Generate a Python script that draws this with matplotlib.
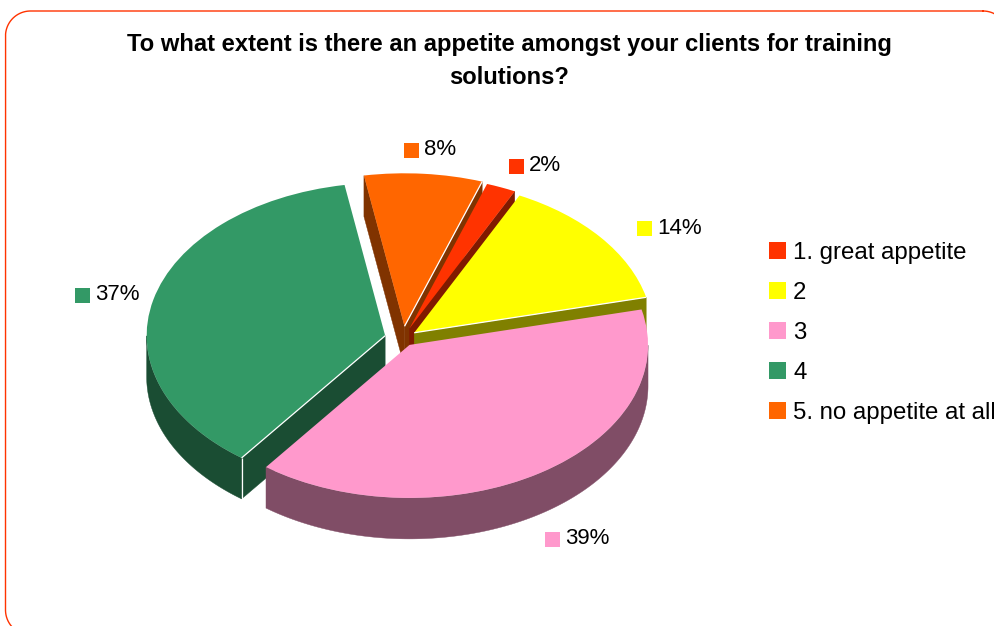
import numpy as np
import matplotlib
matplotlib.use("Agg")
import matplotlib.pyplot as plt
from matplotlib.patches import Polygon, Rectangle

plt.rcParams["font.family"] = ["Liberation Sans", "DejaVu Sans"]

# Survey responses
categories = ["1. great appetite", "2", "3", "4", "5. no appetite at all"]
shares = [2, 14, 39, 37, 8]
top_colors = ["#FF3300", "#FFFF00", "#FF99CC", "#339966", "#FF6600"]
side_colors = ["#801A00", "#808000", "#804D66", "#1A4D33", "#803300"]
title_lines = ["To what extent is there an appetite amongst your clients for training",
               "solutions?"]

# Pie geometry on a canvas measured in pixels
CX, CY = 403.0, 338.5
RX, RY = 238.5, 153.0
DEPTH = 41.0
explode = [0.07, 0.06, 0.05, 0.077, 0.08]
draw_order = [4, 0, 1, 3, 2]
white_edges = {4: "theta1", 1: "theta1", 3: "theta2"}

# Data label swatches: left, top of swatch, in canvas pixels
label_spots = [(509, 158.5), (637, 221), (545, 532), (75, 288), (404, 142.5)]

fig = plt.figure(figsize=(9.95, 6.26), dpi=100, facecolor="white")
ax = fig.add_axes([0, 0, 1, 1])

wedges, _ = ax.pie(shares, explode=explode, colors=top_colors, startangle=71,
                   counterclock=False, frame=True)
ax.set_aspect("auto")
ax.set_xlim(0, 995)
ax.set_ylim(626, 0)
ax.axis("off")


def project(x, y, drop=0.0):
    """Map unit-pie coordinates to the canvas, optionally lowered by the pie depth."""
    return CX + RX * np.asarray(x), CY - RY * np.asarray(y) + drop


def extrude(xs, ys):
    px, py = project(xs, ys)
    qx, qy = project(xs, ys, DEPTH)
    return np.r_[np.c_[px, py], np.c_[qx, qy][::-1]]


def rounded_frame(left, top, right, bottom, r, n=40):
    """Outline of a rounded rectangle as a closed polyline."""
    corners = [(right - r, top + r, 270, 360), (right - r, bottom - r, 0, 90),
               (left + r, bottom - r, 90, 180), (left + r, top + r, 180, 270)]
    pts = []
    for cx, cy, a0, a1 in corners:
        t = np.radians(np.linspace(a0, a1, n))
        pts.append(np.c_[cx + r * np.cos(t), cy + r * np.sin(t)])
    return np.vstack(pts + [pts[0][:1]])


squash = matplotlib.transforms.Affine2D().scale(RX, -RY).translate(CX, CY) + ax.transData

for rank, i in enumerate(draw_order):
    w = wedges[i]
    x0, y0 = w.center
    z = 10 + rank * 5
    w.set_transform(squash)
    w.set_zorder(z + 2)
    w.set_edgecolor("none")
    w.set_linewidth(0)

    # Radial cut faces: drawn only when their outward side looks at the viewer
    for theta, normal in ((w.theta1, w.theta1 - 90), (w.theta2, w.theta2 + 90)):
        if np.sin(np.radians(normal)) < 0:
            t = np.radians(theta)
            xs = np.array([x0, x0 + np.cos(t)])
            ys = np.array([y0, y0 + np.sin(t)])
            ax.add_patch(Polygon(extrude(xs, ys), closed=True, fc=side_colors[i],
                                 ec=side_colors[i], lw=0.3, zorder=z))

    # Outer rim along the front half of the arc
    arc = np.radians(np.linspace(w.theta1, w.theta2, 240))
    arc = arc[np.sin(arc) <= 0]
    if arc.size > 1:
        poly = extrude(x0 + np.cos(arc), y0 + np.sin(arc))
        ax.add_patch(Polygon(poly, closed=True, fc=side_colors[i], ec=side_colors[i],
                             lw=0.3, zorder=z + 1))

    # Thin highlight along the front cut edge
    if i in white_edges:
        t = np.radians(getattr(w, white_edges[i]))
        ex, ey = project([x0, x0 + np.cos(t)], [y0, y0 + np.sin(t)])
        ax.plot(ex, ey, color="white", lw=0.9, zorder=z + 3, solid_capstyle="butt")
        if i == 3:
            vx, vy = project([x0 + np.cos(t)] * 2, [y0 + np.sin(t)] * 2)
            ax.plot(vx, [vy[0], vy[0] + DEPTH], color="white", lw=0.9, zorder=z + 3,
                    solid_capstyle="butt")

# Rounded chart frame, running past the right and bottom of the canvas
frame = rounded_frame(5.5, 11, 1008, 635, 25)
ax.plot(frame[:, 0], frame[:, 1], color="#FF3300", lw=1.0, zorder=1)

for line, y in zip(title_lines, (45, 78)):
    ax.text(509, y, line, ha="center", va="center", fontsize=17.1, fontweight="bold",
            color="black", zorder=60)

# Percentage labels with their colour keys
for share, color, (sx, sy) in zip(shares, top_colors, label_spots):
    ax.add_patch(Rectangle((sx, sy), 15, 15, fc=color, ec="none", zorder=60))
    ax.text(sx + 20, sy + 7, f"{share}%", ha="left", va="center", fontsize=16, color="black",
            zorder=60)

ax.legend(wedges, categories, loc="upper left", bbox_to_anchor=(769, 241.5),
          bbox_transform=ax.transData, frameon=False, fontsize=17.3,
          handlelength=0.71, handleheight=0.71, handletextpad=0.29,
          labelspacing=0.755, borderpad=0, borderaxespad=0, labelcolor="black")

fig.savefig("out.png", dpi=100, facecolor="white")
